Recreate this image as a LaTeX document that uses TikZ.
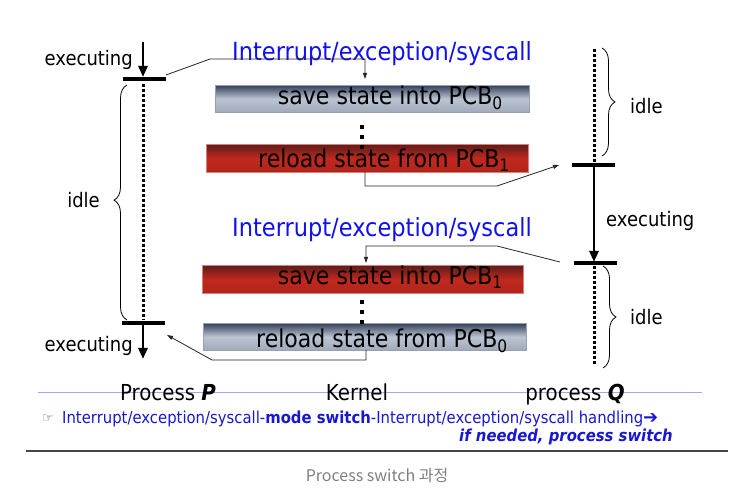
\documentclass[tikz,border=0pt]{standalone}
\usepackage{fontspec}
\setmainfont{DejaVu Sans}[FakeStretch=0.9]
\newfontfamily\krfont{Noto Sans CJK KR}
\newfontfamily\symfont{DejaVu Sans}
\usetikzlibrary{arrows.meta,decorations.pathreplacing}
\definecolor{ttlblue}{RGB}{16,16,240}
\definecolor{noteblue}{RGB}{24,24,210}
\definecolor{redbox}{RGB}{192,40,30}
\definecolor{reddark}{RGB}{92,28,26}
\definecolor{graylight}{RGB}{186,196,210}
\definecolor{graydark}{RGB}{52,64,90}
\definecolor{lineblue}{RGB}{160,168,240}
\definecolor{rulegray}{RGB}{70,70,70}
\definecolor{capgray}{RGB}{128,128,128}
\begin{document}
\begin{tikzpicture}[x=1pt,y=-1pt,
  lbl/.style={inner sep=0pt, font=\fontsize{20}{24}\selectfont},
  boxtxt/.style={inner sep=0pt, anchor=base east, font=\fontsize{24.5}{28}\selectfont},
  ttl/.style={inner sep=0pt, anchor=west, text=ttlblue, font=\fontsize{25}{30}\selectfont},
  colhead/.style={inner sep=0pt, anchor=base, font=\fontsize{22}{26}\selectfont},
  graybox/.style={minimum width=#1, minimum height=27pt, anchor=north west, inner sep=0pt,
    draw=graydark!50, line width=0.5pt, top color=graydark, bottom color=graylight!80!graydark, middle color=graylight},
  redbox/.style={minimum width=#1, minimum height=28pt, anchor=north west, inner sep=0pt,
    draw=redbox!60!white, line width=0.5pt, top color=reddark, bottom color=redbox!92!black, middle color=redbox},
  dotline/.style={line width=3pt, dash pattern=on 2.6pt off 2.4pt, line cap=butt},
  barline/.style={line width=3.5pt},
  bigarrow/.style={line width=2.5pt, -{Triangle[length=11pt,width=9pt]}},
  conn/.style={line width=0.8pt, draw=black!85, -{Triangle[length=6pt,width=4pt]}},
  bracestyle/.style={line width=0.8pt, decorate, decoration={brace, amplitude=13pt, aspect=#1}},
  kdot/.style={fill=black, minimum size=4.5pt, inner sep=0pt, draw=none}
]
\useasboundingbox (0,0) rectangle (755,502);
\fill[white] (0,0) rectangle (755,502);

% ---------- left column: process P ----------
\coordinate (pTop) at (143,42);
\coordinate (pArr1) at (143,77);
\coordinate (pBar1L) at (123,79);
\coordinate (pBar1R) at (166,79);
\coordinate (pDot1) at (143,84);
\coordinate (pDot2) at (143,320);
\coordinate (pBar2L) at (122,323);
\coordinate (pBar2R) at (165,323);
\coordinate (pBar2) at (143,325);
\coordinate (pArr2) at (143,359);
\draw[bigarrow] (pTop) -- (pArr1);
\draw[barline] (pBar1L) -- (pBar1R);
\draw[dotline] (pDot1) -- (pDot2);
\draw[barline] (pBar2L) -- (pBar2R);
\draw[bigarrow] (pBar2) -- (pArr2);
\coordinate (pBrT) at (127,85);
\coordinate (pBrB) at (127,320);
\draw[bracestyle=0.51] (pBrB) -- (pBrT);
\node[lbl, anchor=east] (pExec1) at (133,60) {executing};
\node[lbl, anchor=east] (pIdle) at (100,200) {idle};
\node[lbl, anchor=east] (pExec2) at (133,346) {executing};

% ---------- right column: process Q ----------
\coordinate (qDot1) at (594,49);
\coordinate (qDot2) at (594,162);
\coordinate (qBar1L) at (572,165);
\coordinate (qBar1R) at (615,165);
\coordinate (qBar1) at (594,167);
\coordinate (qArr) at (594,262);
\coordinate (qBar2L) at (574,263);
\coordinate (qBar2R) at (617,263);
\coordinate (qDot3) at (594,266);
\coordinate (qDot4) at (594,364);
\draw[dotline] (qDot1) -- (qDot2);
\draw[barline] (qBar1L) -- (qBar1R);
\draw[bigarrow] (qBar1) -- (qArr);
\draw[barline] (qBar2L) -- (qBar2R);
\draw[dotline] (qDot3) -- (qDot4);
\coordinate (qBr1T) at (602,48);
\coordinate (qBr1B) at (602,156);
\coordinate (qBr2T) at (603,266);
\coordinate (qBr2B) at (603,368);
\draw[bracestyle=0.5] (qBr1T) -- (qBr1B);
\draw[bracestyle=0.5] (qBr2T) -- (qBr2B);
\node[lbl, anchor=west] (qIdle1) at (630,106) {idle};
\node[lbl, anchor=west] (qExec) at (606,221) {executing};
\node[lbl, anchor=west] (qIdle2) at (630,317) {idle};

% ---------- kernel: first switch ----------
\node[ttl] (ttl1) at (232,54) {Interrupt/exception/syscall};
\node[graybox=314pt] (save0) at (215,85) {};
\node[boxtxt] (save0t) at (503,105) {save state into PCB\textsubscript{0}};
\node[kdot] (k1a) at (362,127) {};
\node[kdot] (k1b) at (362,137) {};
\node[redbox=322pt] (reload1) at (206,144) {};
\node[kdot] (k1c) at (362,147) {};
\node[boxtxt] (reload1t) at (510,168) {reload state from PCB\textsubscript{1}};

% ---------- kernel: second switch ----------
\node[ttl] (ttl2) at (232,230) {Interrupt/exception/syscall};
\node[redbox=321pt] (save1) at (202,265) {};
\node[boxtxt] (save1t) at (503,285) {save state into PCB\textsubscript{1}};
\node[kdot] (k2a) at (362,302) {};
\node[kdot] (k2b) at (362,312) {};
\node[graybox=323pt] (reload0) at (203,323) {};
\node[kdot] (k2c) at (362,322) {};
\node[boxtxt] (reload0t) at (508,348) {reload state from PCB\textsubscript{0}};

% ---------- connectors ----------
\coordinate (c1a) at (166,75);
\coordinate (c1b) at (210,59);
\coordinate (c1c) at (365,59);
\coordinate (c1d) at (365,79);
\draw[conn] (c1a) -- (c1b) -- (c1c) -- (c1d);
\coordinate (c2a) at (365,172);
\coordinate (c2b) at (365,186);
\coordinate (c2c) at (497,186);
\coordinate (c2d) at (559,165);
\draw[conn] (c2a) -- (c2b) -- (c2c) -- (c2d);
\coordinate (c3a) at (560,262);
\coordinate (c3b) at (497,246);
\coordinate (c3c) at (366,246);
\coordinate (c3d) at (366,263);
\draw[conn] (c3a) -- (c3b) -- (c3c) -- (c3d);
\coordinate (c4a) at (366,350);
\coordinate (c4b) at (366,360);
\coordinate (c4c) at (212,360);
\coordinate (c4d) at (167,335);
\draw[conn] (c4a) -- (c4b) -- (c4c) -- (c4d);

% ---------- bottom ----------
\coordinate (blL) at (38,392);
\coordinate (blR) at (702,392);
\draw[lineblue, line width=0.9pt] (blL) -- (blR);
\node[colhead] (hP) at (168,401) {Process \textbf{\textit{P}}};
\node[colhead] (hK) at (357,401) {Kernel};
\node[colhead] (hQ) at (575,401) {process \textbf{\textit{Q}}};
\node[inner sep=0pt, anchor=base west, text=black!65, font=\symfont\fontsize{13}{15}\selectfont] (hand) at (42,423) {☞};
\node[inner sep=0pt, anchor=base west, text=noteblue, font=\fontsize{16.5}{20}\selectfont] (note1) at (62,424)
  {Interrupt/exception/syscall-\textbf{mode switch}-Interrupt/exception/syscall handling{\symfont\bfseries\fontsize{18}{20}\selectfont ➔}};
\node[inner sep=0pt, anchor=base east, text=noteblue, font=\fontsize{16.5}{20}\selectfont\bfseries\itshape] (note2) at (673,442)
  {if needed, process switch};
\coordinate (rlL) at (26,451);
\coordinate (rlR) at (728,451);
\draw[rulegray, line width=2pt] (rlL) -- (rlR);
\node[inner sep=0pt, anchor=base, text=capgray, font=\krfont\fontsize{16}{18}\selectfont] (cap) at (377,481) {Process switch 과정};
\end{tikzpicture}
\end{document}
